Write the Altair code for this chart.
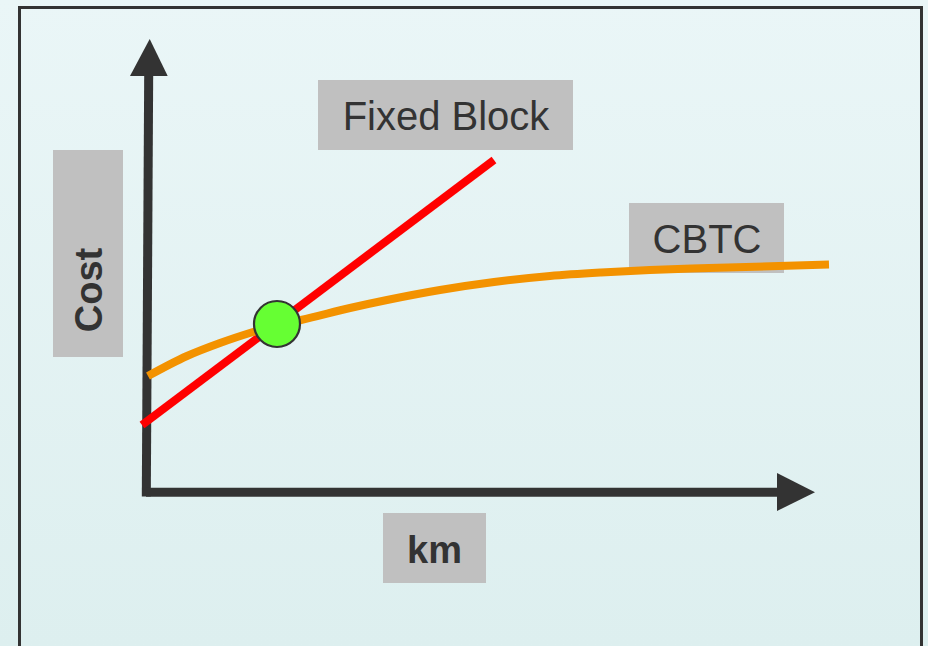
import altair as alt
import pandas as pd

# ---- data (x in km units, y in cost units) ----
fixed_km = [-0.4, 34.8]
fixed_cost = [6.7, 33.2]

cbtc_km = [0.2, 4.1, 7.4, 10.7, 13.1, 15.5, 20.4, 24.1, 29.4, 34.8, 40.4, 45.5, 50.4, 56.3, 68.3]
cbtc_cost = [11.6, 13.6, 14.9, 16.0, 16.7, 17.2, 18.4, 19.2, 20.2, 21.0, 21.6, 21.95, 22.2, 22.4, 22.75]

cross_km = [13.1]
cross_cost = [16.8]

label_text = ["Fixed Block", "CBTC", "km", "Cost"]
label_x = [30.0, 56.1, 28.85, -4.4]
label_y = [36.2, 23.9, -7.1, 20.2]
box_x1 = [17.2, 48.3, 23.7, -9.3]
box_x2 = [42.7, 63.8, 34.0, -2.3]
box_y1 = [41.2, 28.9, -2.1, 34.2]
box_y2 = [34.2, 21.9, -9.1, 13.5]

W, H = 928, 646
xs = alt.Scale(domain=[-14.6, 78.2], nice=False, zero=False)
ys = alt.Scale(domain=[-15.4, 49.2], nice=False, zero=False)

def X(f):
    return alt.X(f, type="quantitative", scale=xs, axis=None)

def Y(f):
    return alt.Y(f, type="quantitative", scale=ys, axis=None)

one = pd.DataFrame({"a": [0]})

background = alt.Chart(one).mark_rect(
    fill=alt.Gradient(
        gradient="linear",
        stops=[alt.GradientStop(offset=0, color="#eaf6f7"),
               alt.GradientStop(offset=1, color="#ddefef")],
        x1=0, x2=0, y1=0, y2=1,
    )
).encode(x=alt.value(0), x2=alt.value(W), y=alt.value(0), y2=alt.value(H))

frame = alt.Chart(one).mark_rect(
    filled=False, stroke="#333333", strokeWidth=3
).encode(x=alt.value(19.5), x2=alt.value(921.5), y=alt.value(7.5), y2=alt.value(H + 20))

# axes
vaxis_df = pd.DataFrame({"x": [0.03], "y": [-0.45], "x2": [0.27], "y2": [42.0]})
haxis_df = pd.DataFrame({"x": [0.0], "y": [-0.02], "x2": [63.6], "y2": [-0.02]})
axis_df = pd.concat([vaxis_df, haxis_df])
axes = alt.Chart(axis_df).mark_rule(color="#333333", strokeWidth=9, strokeCap="butt").encode(
    x=X("x"), y=Y("y"), x2="x2", y2="y2"
)

up_df = pd.DataFrame({"y": [41.6, 45.3], "x": [-1.6, 0.37], "x2": [2.17, 0.37]})
up_arrow = alt.Chart(up_df).mark_area(orient="horizontal", color="#333333", opacity=1).encode(
    y=Y("y"), x=X("x"), x2="x2"
)
right_df = pd.DataFrame({"x": [63.1, 66.9], "y": [1.9, -0.02], "y2": [-1.9, -0.02]})
right_arrow = alt.Chart(right_df).mark_area(orient="vertical", color="#333333", opacity=1).encode(
    x=X("x"), y=Y("y"), y2="y2"
)

# label boxes
box_df = pd.DataFrame({"x": box_x1, "x2": box_x2, "y": box_y1, "y2": box_y2})
boxes = alt.Chart(box_df).mark_rect(color="#c0c0c0").encode(
    x=X("x"), x2="x2", y=Y("y"), y2="y2"
)

# series
fixed_df = pd.DataFrame({"km": fixed_km, "cost": fixed_cost})
fixed = alt.Chart(fixed_df).mark_line(color="#ff0000", strokeWidth=8, strokeCap="butt").encode(
    x=X("km"), y=Y("cost")
)
cbtc_df = pd.DataFrame({"km": cbtc_km, "cost": cbtc_cost})
cbtc = alt.Chart(cbtc_df).mark_line(
    color="#f39200", strokeWidth=8, strokeCap="butt", interpolate="monotone"
).encode(x=X("km"), y=Y("cost"))

cross_df = pd.DataFrame({"km": cross_km, "cost": cross_cost})
cross = alt.Chart(cross_df).mark_point(
    shape="circle", filled=True, fill="#66ff33", stroke="#333333", strokeWidth=2.2,
    size=2116, opacity=1
).encode(x=X("km"), y=Y("cost"))

lab_df = pd.DataFrame({"t": label_text, "x": label_x, "y": label_y})
normal_labels = alt.Chart(lab_df.iloc[:2]).mark_text(
    font="Liberation Sans", fontSize=40, color="#333333", align="center", baseline="alphabetic"
).encode(x=X("x"), y=Y("y"), text="t")
km_label = alt.Chart(lab_df.iloc[2:3]).mark_text(
    font="Liberation Sans", fontSize=38, fontWeight="bold", color="#333333",
    align="center", baseline="alphabetic"
).encode(x=X("x"), y=Y("y"), text="t")
cost_label = alt.Chart(lab_df.iloc[3:4]).mark_text(
    font="Liberation Sans", fontSize=38, fontWeight="bold", color="#333333",
    align="center", baseline="alphabetic", angle=270
).encode(x=X("x"), y=Y("y"), text="t")

chart = alt.layer(
    background, frame, boxes, axes, up_arrow, right_arrow, fixed, cbtc, cross,
    normal_labels, km_label, cost_label
).properties(
    width=W, height=H, padding=0, autosize=alt.AutoSizeParams(type="none")
).configure_view(stroke=None)

chart.save("out.html", embed_options={"renderer": "svg", "actions": False})
